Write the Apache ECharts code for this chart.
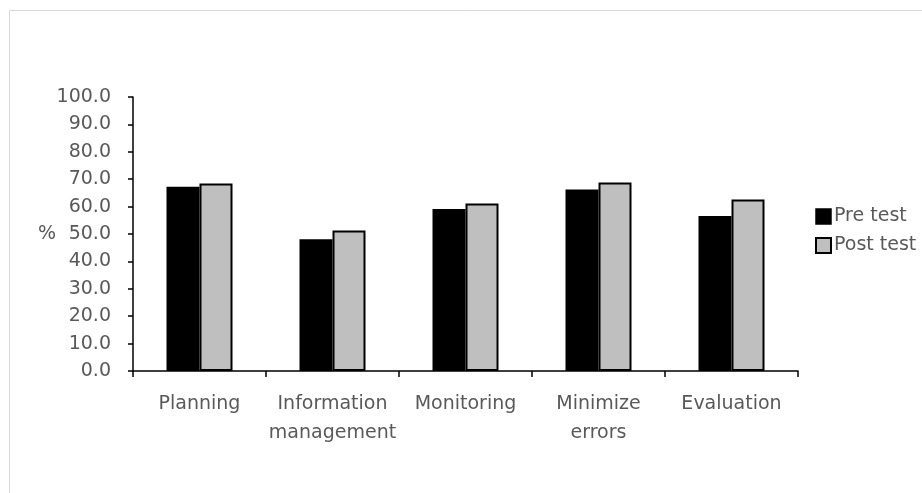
<!DOCTYPE html>
<html><head><meta charset="utf-8">
<script src="https://cdn.jsdelivr.net/npm/echarts@6/dist/echarts.min.js"></script>
<style>html,body{margin:0;padding:0;background:#fff}#c{width:922px;height:493px}</style>
</head><body><div id="c"></div>
<script>
const categories = ['Planning', 'Information\nmanagement', 'Monitoring', 'Minimize\nerrors', 'Evaluation'];
const preTest = [67.2, 48.1, 59.1, 66.2, 56.6];
const postTest = [68.4, 51.3, 61.1, 68.8, 62.6];
const seriesNames = ['Pre test', 'Post test'];

const FONT = '"DejaVu Sans", sans-serif';
const TXT = '#595959';
const chart = echarts.init(document.getElementById('c'));
chart.setOption({
  animation: false,
  textStyle: { fontFamily: FONT },
  graphic: [{ type: 'rect', shape: { x: 9.5, y: 10.5, width: 930, height: 490 }, style: { fill: 'none', stroke: '#d9d9d9', lineWidth: 1 }, silent: true }],
  grid: { left: 133, right: 124, top: 97, bottom: 122 },
  legend: {
    orient: 'vertical', left: 810, top: 202, itemWidth: 15, itemHeight: 15, itemGap: 10, icon: 'rect',
    textStyle: { fontSize: 19, color: TXT, fontFamily: FONT, padding: [0, 0, 0, -2] },
    data: [{ name: seriesNames[0], itemStyle: { color: '#000', borderColor: '#000', borderWidth: 1.5 } },
           { name: seriesNames[1], itemStyle: { color: '#bfbfbf', borderColor: '#000', borderWidth: 2 } }]
  },
  xAxis: {
    type: 'category', data: categories,
    axisLine: { lineStyle: { color: '#000', width: 1.5 } },
    axisTick: { show: true, length: 6, lineStyle: { color: '#000', width: 1.5 }, alignWithLabel: false },
    axisLabel: { fontSize: 19, color: TXT, margin: 19, lineHeight: 29, interval: 0, fontFamily: FONT }
  },
  yAxis: {
    type: 'value', min: 0, max: 100, interval: 10,
    name: '%', nameLocation: 'middle', nameGap: 77, nameRotate: 0, nameMoveOverlap: false,
    nameTextStyle: { fontSize: 19, color: TXT, fontFamily: FONT, padding: [6, 0, 0, 0] },
    axisLine: { show: true, lineStyle: { color: '#000', width: 1.5 } },
    axisTick: { show: true, length: 5, lineStyle: { color: '#000', width: 1.5 } },
    splitLine: { show: false },
    axisLabel: { fontSize: 19, color: TXT, margin: 22, formatter: v => v.toFixed(1), fontFamily: FONT }
  },
  series: [
    { name: seriesNames[0], type: 'bar', data: preTest, barWidth: 33, barGap: '0%',
      itemStyle: { color: '#000', borderColor: '#000', borderWidth: 1.5 } },
    { name: seriesNames[1], type: 'bar', data: postTest, barWidth: 33, barGap: '0%',
      itemStyle: { color: '#bfbfbf', borderColor: '#000', borderWidth: 2 } }
  ]
});
</script></body></html>
